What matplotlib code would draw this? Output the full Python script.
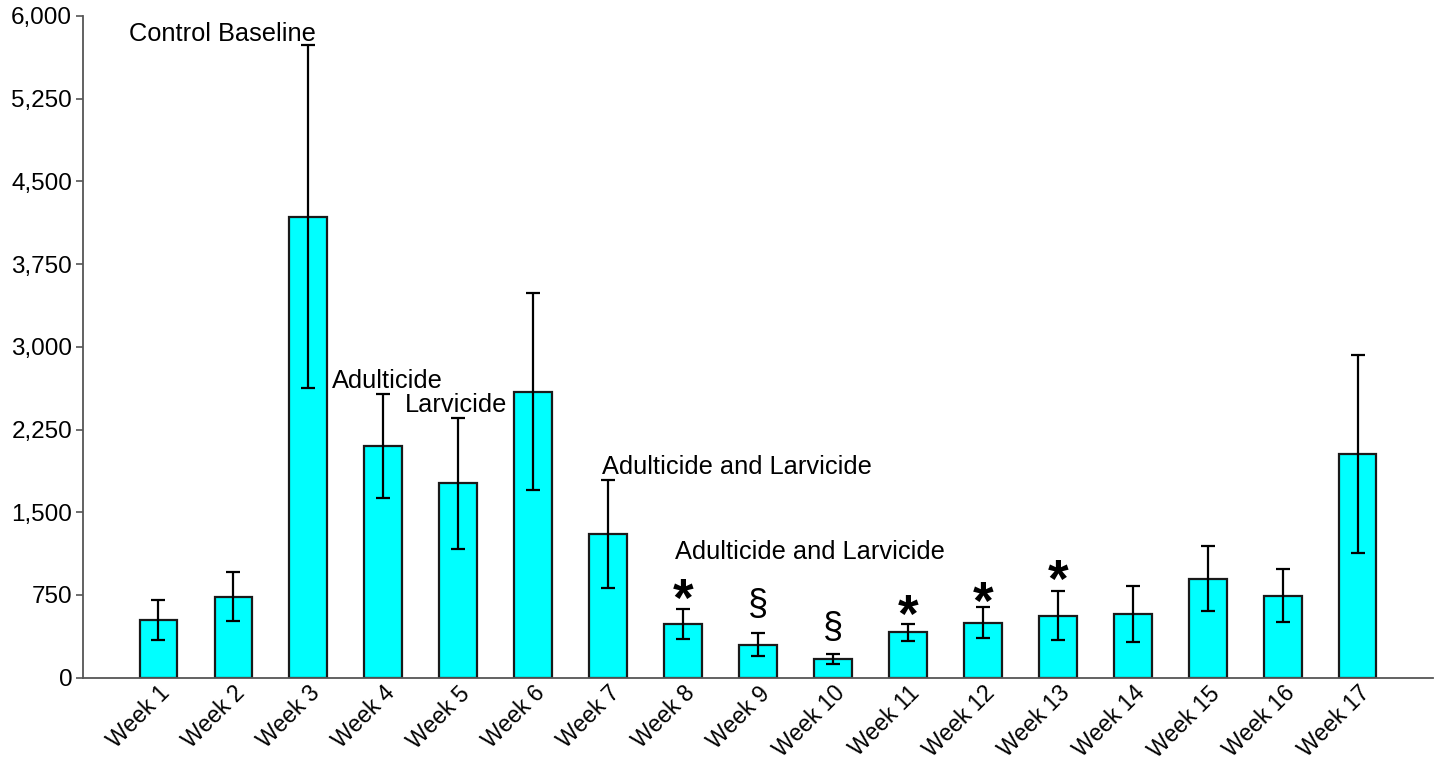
import matplotlib
matplotlib.use("Agg")
import matplotlib.pyplot as plt
import numpy as np

plt.rcParams['font.family'] = ['Liberation Sans', 'DejaVu Sans']

weeks = [f"Week {i}" for i in range(1, 18)]
means = [523, 735, 4178, 2101, 1763, 2594, 1303, 487, 300, 167, 411, 499, 562, 578, 898, 744, 2026]
errors = [185, 220, 1555, 471, 595, 892, 492, 134, 108, 45, 78, 142, 224, 252, 295, 243, 900]

yticks = [0, 750, 1500, 2250, 3000, 3750, 4500, 5250, 6000]

# treatment annotations: (text, x position in bar index units, y value)
ann_texts = ["Control Baseline", "Adulticide", "Larvicide",
             "Adulticide and Larvicide", "Adulticide and Larvicide"]
ann_x = [-0.39, 2.31, 3.29, 5.92, 6.89]
ann_y = [5773, 2624, 2412, 1847, 1076]

# significance markers (y = centre of the symbol)
sig_idx = [7, 8, 9, 10, 11, 12]
sig_sym = ["*", "§", "§", "*", "*", "*"]
sig_y = [795, 650, 441, 658, 768, 967]

fig = plt.figure(figsize=(14.37, 7.61), dpi=100)
ax = fig.add_axes([0.058, 0.1095, 0.939, 0.8695])

x = np.arange(len(weeks))
ax.bar(x, means, width=0.5, color='#00FFFF', edgecolor='#1a1a1a', linewidth=1.6, zorder=2)
ax.errorbar(x, means, yerr=errors, fmt='none', ecolor='black', elinewidth=1.6,
            capsize=5.3, capthick=1.6, zorder=3)

ax.set_xlim(-1.0, 17.0)
ax.set_ylim(0, 6000)
ax.set_yticks(yticks)
ax.set_yticklabels([f"{v:,}" for v in yticks], fontsize=17.5)
ax.set_xticks(x)
ax.set_xticklabels(weeks, fontsize=16.6, rotation=45, ha='right', va='top',
                   rotation_mode='anchor')
ax.tick_params(axis='x', length=0, pad=3)
ax.tick_params(axis='y', length=5, width=1.2, color='#555555', pad=3)

for s in ['top', 'right']:
    ax.spines[s].set_visible(False)
for s in ['left', 'bottom']:
    ax.spines[s].set_color('#555555')
    ax.spines[s].set_linewidth(1.3)

for t, xx, yy in zip(ann_texts, ann_x, ann_y):
    ax.text(xx, yy, t, fontsize=18.3, ha='left', va='baseline', zorder=4)

for i, s, yy in zip(sig_idx, sig_sym, sig_y):
    if s == "*":
        fs = 38
        ax.annotate(s, (i, yy), xytext=(0, -0.5 * fs), textcoords='offset points',
                    fontsize=fs, fontweight='bold', ha='center', va='baseline', zorder=4)
    else:
        fs = 26
        ax.annotate(s, (i, yy), xytext=(0, -0.26 * fs), textcoords='offset points',
                    fontsize=fs, ha='center', va='baseline', zorder=4)

fig.savefig("out.png", dpi=100)
